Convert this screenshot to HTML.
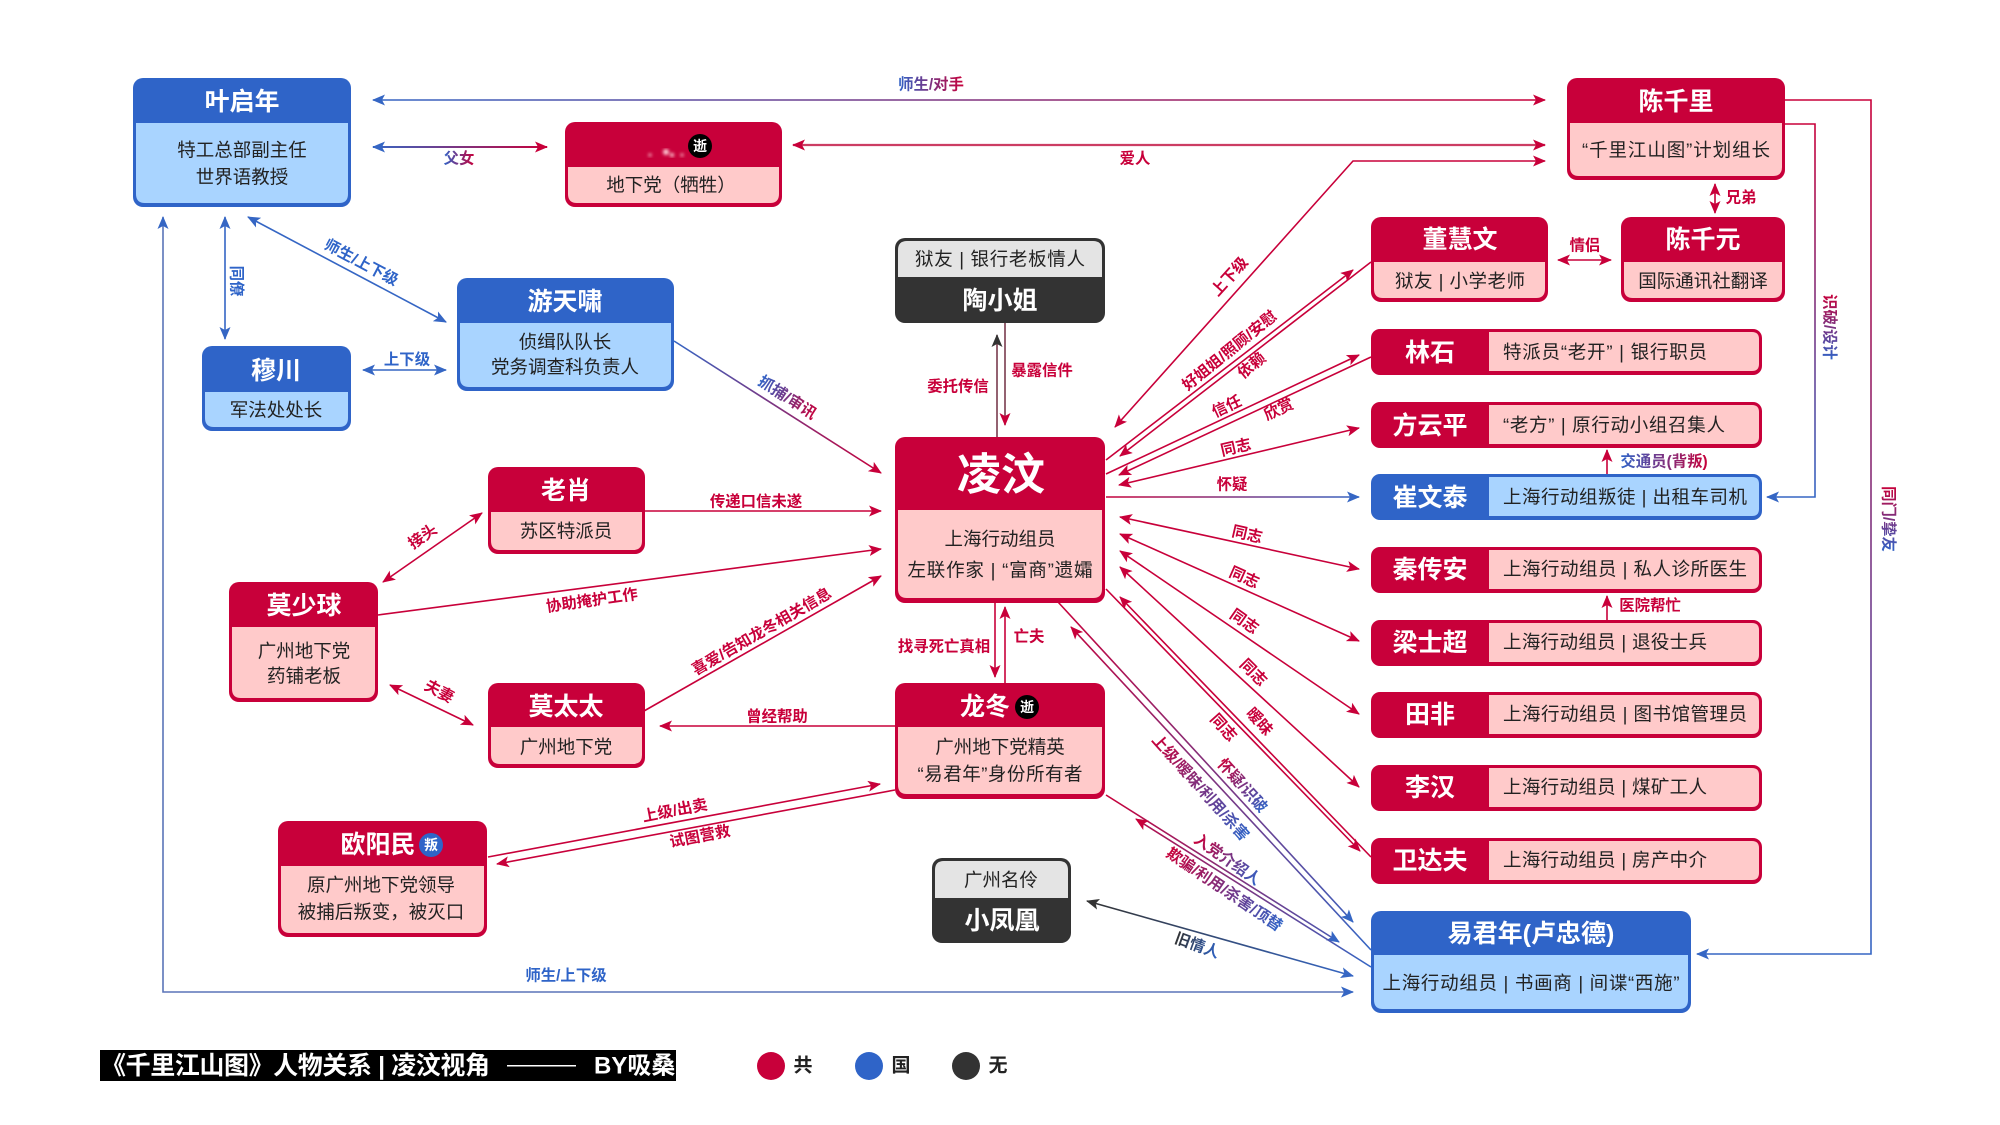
<!DOCTYPE html>
<html lang="zh"><head><meta charset="utf-8"><title>千里江山图 人物关系</title>
<style>
html,body{margin:0;padding:0;background:#fff;width:2000px;height:1125px;overflow:hidden}
svg{display:block}
text{font-family:"Liberation Sans","Noto Sans CJK SC",sans-serif;dominant-baseline:central}
.h{fill:#fff;font-weight:700;font-size:25px;text-anchor:middle}
.b{fill:#222;font-size:18.5px;text-anchor:middle}
.s{fill:#222;font-size:18.5px}
.l{font-weight:700;font-size:15.4px;text-anchor:middle;fill:#c8003a}
.lb{fill:#2f64c8}.lg{fill:url(#tg)}.lr{fill:url(#tr)}.lk{fill:url(#tk)}
line,polyline{fill:none;stroke-width:1.6}
.R{stroke:#c8003a}.B{stroke:#3566c4}
</style></head><body>
<svg width="2000" height="1125" viewBox="0 0 2000 1125" xmlns="http://www.w3.org/2000/svg">
<defs>
<marker id="r" markerUnits="userSpaceOnUse" markerWidth="13" markerHeight="11" viewBox="0 0 13 11" refX="12" refY="5.5" orient="auto-start-reverse"><path d="M0 0L13 5.5L0 11L3 5.5Z" fill="#c8003a"/></marker>
<marker id="b" markerUnits="userSpaceOnUse" markerWidth="13" markerHeight="11" viewBox="0 0 13 11" refX="12" refY="5.5" orient="auto-start-reverse"><path d="M0 0L13 5.5L0 11L3 5.5Z" fill="#3566c4"/></marker>
<marker id="k" markerUnits="userSpaceOnUse" markerWidth="13" markerHeight="11" viewBox="0 0 13 11" refX="12" refY="5.5" orient="auto-start-reverse"><path d="M0 0L13 5.5L0 11L3 5.5Z" fill="#333"/></marker>
<filter id="bl"><feGaussianBlur stdDeviation="1.5"/></filter>
<linearGradient id="tg"><stop offset="0" stop-color="#2f64c8"/><stop offset="1" stop-color="#c8003a"/></linearGradient>
<linearGradient id="tr"><stop offset="0" stop-color="#c8003a"/><stop offset="1" stop-color="#2f64c8"/></linearGradient>
<linearGradient id="tk"><stop offset="0" stop-color="#333"/><stop offset="1" stop-color="#2f64c8"/></linearGradient>
<linearGradient id="g1" gradientUnits="userSpaceOnUse" x1="373" y1="0" x2="1545" y2="0"><stop offset="0" stop-color="#3566c4"/><stop offset="1" stop-color="#c8003a"/></linearGradient>
<linearGradient id="g2" gradientUnits="userSpaceOnUse" x1="373" y1="0" x2="547" y2="0"><stop offset="0" stop-color="#3566c4"/><stop offset="1" stop-color="#c8003a"/></linearGradient>
<linearGradient id="g3" gradientUnits="userSpaceOnUse" x1="674" y1="341" x2="881" y2="473"><stop offset="0" stop-color="#3566c4"/><stop offset="1" stop-color="#c8003a"/></linearGradient>
<linearGradient id="g4" gradientUnits="userSpaceOnUse" x1="0" y1="100" x2="0" y2="954"><stop offset="0" stop-color="#c8003a"/><stop offset="1" stop-color="#3566c4"/></linearGradient>
<linearGradient id="g5" gradientUnits="userSpaceOnUse" x1="0" y1="124" x2="0" y2="497"><stop offset="0" stop-color="#c8003a"/><stop offset="1" stop-color="#3566c4"/></linearGradient>
<linearGradient id="g6" gradientUnits="userSpaceOnUse" x1="1106" y1="0" x2="1359" y2="0"><stop offset="0" stop-color="#c8003a"/><stop offset="1" stop-color="#3566c4"/></linearGradient>
<linearGradient id="g7" gradientUnits="userSpaceOnUse" x1="1058" y1="602" x2="1371" y2="950"><stop offset="0" stop-color="#c8003a"/><stop offset="1" stop-color="#3566c4"/></linearGradient>
<linearGradient id="g8" gradientUnits="userSpaceOnUse" x1="1106" y1="795" x2="1371" y2="967"><stop offset="0" stop-color="#c8003a"/><stop offset="1" stop-color="#3566c4"/></linearGradient>
<linearGradient id="g9" gradientUnits="userSpaceOnUse" x1="1087" y1="901" x2="1353" y2="976"><stop offset="0" stop-color="#333"/><stop offset="1" stop-color="#3566c4"/></linearGradient>
</defs>

<!-- connectors -->
<line x1="373" y1="100" x2="1545" y2="100" stroke="url(#g1)" marker-start="url(#b)" marker-end="url(#r)"/>
<line x1="373" y1="147" x2="547" y2="147" stroke="url(#g2)" style="stroke-width:2" marker-start="url(#b)" marker-end="url(#r)"/>
<line x1="793" y1="145" x2="1545" y2="145" stroke="#cc3d63" style="stroke-width:2.2" marker-start="url(#r)" marker-end="url(#r)"/>
<polyline class="R" points="1115,427 1353,161 1545,161" marker-start="url(#r)" marker-end="url(#r)"/>
<polyline points="1785,100 1871,100 1871,954 1697,954" stroke="url(#g4)" marker-end="url(#b)"/>
<polyline points="1785,124 1815,124 1815,497 1767,497" stroke="url(#g5)" marker-end="url(#b)"/>
<line class="R" x1="1715" y1="184" x2="1715" y2="213" marker-start="url(#r)" marker-end="url(#r)"/>
<line class="R" x1="1558" y1="260" x2="1611" y2="260" marker-start="url(#r)" marker-end="url(#r)"/>
<line class="R" x1="1106" y1="460" x2="1353" y2="270" marker-end="url(#r)"/>
<line class="R" x1="1371" y1="262" x2="1120" y2="456" marker-end="url(#r)"/>
<line class="R" x1="1106" y1="474" x2="1359" y2="355" marker-end="url(#r)"/>
<line class="R" x1="1371" y1="357" x2="1119" y2="475" marker-end="url(#r)"/>
<line class="R" x1="1119" y1="485" x2="1359" y2="428" marker-start="url(#r)" marker-end="url(#r)"/>
<line x1="1106" y1="497" x2="1359" y2="497" stroke="url(#g6)" marker-end="url(#b)"/>
<line class="R" x1="1120" y1="517" x2="1359" y2="569" marker-start="url(#r)" marker-end="url(#r)"/>
<line class="R" x1="1120" y1="534" x2="1359" y2="641" marker-start="url(#r)" marker-end="url(#r)"/>
<line class="R" x1="1120" y1="551" x2="1359" y2="714" marker-start="url(#r)" marker-end="url(#r)"/>
<line class="R" x1="1120" y1="567" x2="1359" y2="787" marker-start="url(#r)" marker-end="url(#r)"/>
<line class="R" x1="1106" y1="589" x2="1360" y2="851" marker-end="url(#r)"/>
<line class="R" x1="1371" y1="857" x2="1120" y2="597" marker-end="url(#r)"/>
<line x1="1058" y1="602" x2="1353" y2="922" stroke="url(#g7)" marker-end="url(#b)"/>
<line x1="1371" y1="950" x2="1071" y2="627" stroke="url(#g7)" marker-end="url(#r)"/>
<line x1="1106" y1="795" x2="1339" y2="942" stroke="url(#g8)" marker-end="url(#b)"/>
<line x1="1371" y1="967" x2="1136" y2="819" stroke="url(#g8)" marker-end="url(#r)"/>
<line x1="1087" y1="901" x2="1353" y2="976" stroke="url(#g9)" marker-start="url(#k)" marker-end="url(#b)"/>
<polyline points="163,217 163,992 1353,992" stroke="#5a74b8" marker-start="url(#b)" marker-end="url(#b)"/>
<line class="B" x1="225" y1="217" x2="225" y2="339" marker-start="url(#b)" marker-end="url(#b)"/>
<line class="B" x1="248" y1="217" x2="446" y2="322" marker-start="url(#b)" marker-end="url(#b)"/>
<line class="B" x1="363" y1="370" x2="446" y2="370" marker-start="url(#b)" marker-end="url(#b)"/>
<line x1="674" y1="341" x2="881" y2="473" stroke="url(#g3)" marker-end="url(#r)"/>
<line class="R" x1="644" y1="511" x2="881" y2="511" marker-end="url(#r)"/>
<line class="R" x1="482" y1="513" x2="383" y2="582" marker-start="url(#r)" marker-end="url(#r)"/>
<line class="R" x1="378" y1="615" x2="881" y2="549" marker-end="url(#r)"/>
<line class="R" x1="390" y1="685" x2="473" y2="725" marker-start="url(#r)" marker-end="url(#r)"/>
<line class="R" x1="644" y1="711" x2="881" y2="576" marker-end="url(#r)"/>
<line class="R" x1="895" y1="726" x2="660" y2="726" marker-end="url(#r)"/>
<line class="R" x1="488" y1="857" x2="880" y2="784" marker-end="url(#r)"/>
<line class="R" x1="895" y1="790" x2="497" y2="864" marker-end="url(#r)"/>
<line x1="1005" y1="323" x2="1005" y2="425" stroke="#7a3a4d" marker-end="url(#r)"/>
<line x1="997" y1="437" x2="997" y2="335" stroke="#7a3a4d" marker-end="url(#k)"/>
<line class="R" x1="995" y1="602" x2="995" y2="677" marker-end="url(#r)"/>
<line class="R" x1="1005" y1="683" x2="1005" y2="607" marker-end="url(#r)"/>
<line class="R" x1="1607" y1="474" x2="1607" y2="450" marker-end="url(#r)"/>
<line class="R" x1="1607" y1="620" x2="1607" y2="596" marker-end="url(#r)"/>

<!-- labels -->
<text class="l lg" x="931" y="85">师生/对手</text>
<text class="l lg" x="459" y="159">父女</text>
<text class="l" x="1135" y="159">爱人</text>
<text class="l" x="1230" y="277" transform="rotate(-48 1230 277)">上下级</text>
<text class="l lr" x="1888" y="519" transform="rotate(90 1888 519)">同门/挚友</text>
<text class="l lr" x="1829" y="327" transform="rotate(90 1829 327)">识破/设计</text>
<text class="l" x="1741" y="198">兄弟</text>
<text class="l" x="1585" y="246">情侣</text>
<text class="l" x="1230" y="351" transform="rotate(-39 1230 351)">好姐姐/照顾/安慰</text>
<text class="l" x="1252" y="366" transform="rotate(-39 1252 366)">依赖</text>
<text class="l" x="1227" y="407" transform="rotate(-25 1227 407)">信任</text>
<text class="l" x="1279" y="410" transform="rotate(-25 1279 410)">欣赏</text>
<text class="l" x="1236" y="448" transform="rotate(-13 1236 448)">同志</text>
<text class="l" x="1232" y="485">怀疑</text>
<text class="l" x="1247" y="535" transform="rotate(13 1247 535)">同志</text>
<text class="l" x="1244" y="578" transform="rotate(24 1244 578)">同志</text>
<text class="l" x="1244" y="622" transform="rotate(35 1244 622)">同志</text>
<text class="l" x="1253" y="673" transform="rotate(45 1253 673)">同志</text>
<text class="l" x="1259" y="722" transform="rotate(48 1259 722)">暧昧</text>
<text class="l" x="1223" y="728" transform="rotate(48 1223 728)">同志</text>
<text class="l lr" x="1200" y="788" transform="rotate(48 1200 788)">上级/暧昧/利用/杀害</text>
<text class="l lr" x="1242" y="786" transform="rotate(48 1242 786)">怀疑/识破</text>
<text class="l lr" x="1227" y="860" transform="rotate(35 1227 860)">入党介绍人</text>
<text class="l lr" x="1224" y="890" transform="rotate(34 1224 890)">欺骗/利用/杀害/顶替</text>
<text class="l lk" x="1197" y="946" transform="rotate(20 1197 946)">旧情人</text>
<text class="l lb" x="566" y="976">师生/上下级</text>
<text class="l lb" x="236" y="281" transform="rotate(90 236 281)">同僚</text>
<text class="l lb" x="361" y="263" transform="rotate(28 361 263)">师生/上下级</text>
<text class="l lb" x="407" y="360">上下级</text>
<text class="l lg" x="787" y="398" transform="rotate(33 787 398)">抓捕/审讯</text>
<text class="l" x="756" y="502">传递口信未遂</text>
<text class="l" x="423" y="537" transform="rotate(-35 423 537)">接头</text>
<text class="l" x="592" y="601" transform="rotate(-8 592 601)">协助掩护工作</text>
<text class="l" x="439" y="692" transform="rotate(28 439 692)">夫妻</text>
<text class="l" x="762" y="632" transform="rotate(-30 762 632)">喜爱/告知龙冬相关信息</text>
<text class="l" x="777" y="717">曾经帮助</text>
<text class="l" x="675" y="811" transform="rotate(-11 675 811)">上级/出卖</text>
<text class="l" x="700" y="837" transform="rotate(-11 700 837)">试图营救</text>
<text class="l" x="958" y="387">委托传信</text>
<text class="l" x="1042" y="371">暴露信件</text>
<text class="l" x="944" y="647">找寻死亡真相</text>
<text class="l" x="1029" y="637">亡夫</text>
<text class="l lg" x="1664" y="462">交通员(背叛)</text>
<text class="l" x="1650" y="606">医院帮忙</text>

<!-- 叶启年 -->
<rect x="133" y="78" width="218" height="129" rx="10" fill="#2f64c8"/>
<path d="M136 123H348V194q0 9-9 9H145q-9 0-9-9Z" fill="#a9d4ff"/>
<text class="h" x="242" y="102">叶启年</text>
<text class="b" x="242" y="150">特工总部副主任</text>
<text class="b" x="242" y="177">世界语教授</text>
<!-- redacted -->
<rect x="565" y="122" width="217" height="85" rx="10" fill="#c8003a"/>
<path d="M568 167H779V194q0 9-9 9H577q-9 0-9-9Z" fill="#ffcaca"/>
<g filter="url(#bl)" fill="#ffd0d8"><circle cx="666" cy="152" r="3"/><circle cx="672" cy="155" r="2"/><circle cx="650" cy="155" r="1.5"/><circle cx="682" cy="155" r="1.5"/></g>
<circle cx="700" cy="146" r="12" fill="#000"/>
<text x="700" y="146" text-anchor="middle" fill="#fff" font-size="14" font-weight="700">逝</text>
<text class="b" x="671" y="185">地下党（牺牲）</text>
<!-- 游天啸 -->
<rect x="457" y="278" width="217" height="113" rx="10" fill="#2f64c8"/>
<path d="M460 323H671V378q0 9-9 9H469q-9 0-9-9Z" fill="#a9d4ff"/>
<text class="h" x="565" y="302">游天啸</text>
<text class="b" x="565" y="342">侦缉队队长</text>
<text class="b" x="565" y="367">党务调查科负责人</text>
<!-- 穆川 -->
<rect x="202" y="346" width="149" height="85" rx="10" fill="#2f64c8"/>
<path d="M205 392H348V418q0 9-9 9H214q-9 0-9-9Z" fill="#a9d4ff"/>
<text class="h" x="276" y="371">穆川</text>
<text class="b" x="276" y="410">军法处处长</text>
<!-- 老肖 -->
<rect x="488" y="467" width="157" height="87" rx="10" fill="#c8003a"/>
<path d="M491 512H642V541q0 9-9 9H500q-9 0-9-9Z" fill="#ffcaca"/>
<text class="h" x="566" y="491">老肖</text>
<text class="b" x="566" y="531">苏区特派员</text>
<!-- 莫少球 -->
<rect x="229" y="582" width="149" height="120" rx="10" fill="#c8003a"/>
<path d="M232 627H375V689q0 9-9 9H241q-9 0-9-9Z" fill="#ffcaca"/>
<text class="h" x="304" y="606">莫少球</text>
<text class="b" x="304" y="651">广州地下党</text>
<text class="b" x="304" y="676">药铺老板</text>
<!-- 莫太太 -->
<rect x="488" y="683" width="157" height="85" rx="10" fill="#c8003a"/>
<path d="M491 727H642V755q0 9-9 9H500q-9 0-9-9Z" fill="#ffcaca"/>
<text class="h" x="566" y="707">莫太太</text>
<text class="b" x="566" y="747">广州地下党</text>
<!-- 欧阳民 -->
<rect x="278" y="821" width="209" height="116" rx="10" fill="#c8003a"/>
<path d="M281 866H484V924q0 9-9 9H290q-9 0-9-9Z" fill="#ffcaca"/>
<text class="h" x="378" y="845">欧阳民</text>
<circle cx="431" cy="845" r="12" fill="#2f64c8"/>
<text x="431" y="845" text-anchor="middle" fill="#fff" font-size="14" font-weight="700">叛</text>
<text class="b" x="381" y="885">原广州地下党领导</text>
<text class="b" x="381" y="912">被捕后叛变，被灭口</text>
<!-- 陶小姐 -->
<rect x="895" y="238" width="210" height="85" rx="10" fill="#333"/>
<path d="M898 277V250q0-9 9-9H1093q9 0 9 9V277Z" fill="#e4e4e4"/>
<text class="b" x="1000" y="259" textLength="170">狱友 | 银行老板情人</text>
<text class="h" x="1000" y="301">陶小姐</text>
<!-- 凌汶 -->
<rect x="895" y="437" width="210" height="166" rx="10" fill="#c8003a"/>
<path d="M898 510H1102V589q0 9-9 9H907q-9 0-9-9Z" fill="#ffcaca"/>
<text class="h" x="1001" y="475" style="font-size:44px">凌汶</text>
<text class="b" x="1000" y="539">上海行动组员</text>
<text class="b" x="1000" y="570" textLength="185">左联作家 | “富商”遗孀</text>
<!-- 龙冬 -->
<rect x="895" y="683" width="210" height="116" rx="10" fill="#c8003a"/>
<path d="M898 727H1102V785q0 9-9 9H907q-9 0-9-9Z" fill="#ffcaca"/>
<text class="h" x="985" y="707">龙冬</text>
<circle cx="1027" cy="707" r="12" fill="#000"/>
<text x="1027" y="707" text-anchor="middle" fill="#fff" font-size="14" font-weight="700">逝</text>
<text class="b" x="1000" y="747">广州地下党精英</text>
<text class="b" x="1000" y="774" textLength="165">“易君年”身份所有者</text>
<!-- 小凤凰 -->
<rect x="932" y="858" width="139" height="85" rx="10" fill="#333"/>
<path d="M935 898V870q0-9 9-9H1059q9 0 9 9V898Z" fill="#e4e4e4"/>
<text class="b" x="1001" y="880">广州名伶</text>
<text class="h" x="1002" y="921">小凤凰</text>
<!-- 陈千里 -->
<rect x="1567" y="78" width="218" height="102" rx="10" fill="#c8003a"/>
<path d="M1570 123H1782V167q0 9-9 9H1579q-9 0-9-9Z" fill="#ffcaca"/>
<text class="h" x="1676" y="102">陈千里</text>
<text class="b" x="1676" y="150" textLength="188">“千里江山图”计划组长</text>
<!-- 董慧文 -->
<rect x="1371" y="217" width="177" height="85" rx="10" fill="#c8003a"/>
<path d="M1374 262H1545V289q0 9-9 9H1383q-9 0-9-9Z" fill="#ffcaca"/>
<text class="h" x="1460" y="240">董慧文</text>
<text class="b" x="1460" y="281" textLength="130">狱友 | 小学老师</text>
<!-- 陈千元 -->
<rect x="1621" y="217" width="164" height="85" rx="10" fill="#c8003a"/>
<path d="M1624 262H1782V289q0 9-9 9H1633q-9 0-9-9Z" fill="#ffcaca"/>
<text class="h" x="1703" y="240">陈千元</text>
<text class="b" x="1703" y="281">国际通讯社翻译</text>
<!-- 横向节点 -->
<rect x="1371" y="329" width="391" height="46" rx="9" fill="#c8003a"/>
<path d="M1489 332H1752q7 0 7 7V364q0 7-7 7H1489Z" fill="#ffcaca"/>
<text class="h" x="1430" y="353">林石</text><text class="s" x="1503" y="352" textLength="204">特派员“老开” | 银行职员</text>
<rect x="1371" y="402" width="391" height="46" rx="9" fill="#c8003a"/>
<path d="M1489 405H1752q7 0 7 7V437q0 7-7 7H1489Z" fill="#ffcaca"/>
<text class="h" x="1430" y="426">方云平</text><text class="s" x="1503" y="425" textLength="222">“老方” | 原行动小组召集人</text>
<rect x="1371" y="474" width="391" height="46" rx="9" fill="#2f64c8"/>
<path d="M1489 477H1752q7 0 7 7V509q0 7-7 7H1489Z" fill="#a9d4ff"/>
<text class="h" x="1430" y="498">崔文泰</text><text class="s" x="1503" y="497" textLength="244">上海行动组叛徒 | 出租车司机</text>
<rect x="1371" y="547" width="391" height="46" rx="9" fill="#c8003a"/>
<path d="M1489 550H1752q7 0 7 7V582q0 7-7 7H1489Z" fill="#ffcaca"/>
<text class="h" x="1430" y="570">秦传安</text><text class="s" x="1503" y="569" textLength="244">上海行动组员 | 私人诊所医生</text>
<rect x="1371" y="620" width="391" height="46" rx="9" fill="#c8003a"/>
<path d="M1489 623H1752q7 0 7 7V655q0 7-7 7H1489Z" fill="#ffcaca"/>
<text class="h" x="1430" y="643">梁士超</text><text class="s" x="1503" y="642" textLength="204">上海行动组员 | 退役士兵</text>
<rect x="1371" y="692" width="391" height="46" rx="9" fill="#c8003a"/>
<path d="M1489 695H1752q7 0 7 7V727q0 7-7 7H1489Z" fill="#ffcaca"/>
<text class="h" x="1430" y="715">田非</text><text class="s" x="1503" y="714" textLength="244">上海行动组员 | 图书馆管理员</text>
<rect x="1371" y="765" width="391" height="46" rx="9" fill="#c8003a"/>
<path d="M1489 768H1752q7 0 7 7V800q0 7-7 7H1489Z" fill="#ffcaca"/>
<text class="h" x="1430" y="788">李汉</text><text class="s" x="1503" y="787" textLength="204">上海行动组员 | 煤矿工人</text>
<rect x="1371" y="838" width="391" height="46" rx="9" fill="#c8003a"/>
<path d="M1489 841H1752q7 0 7 7V873q0 7-7 7H1489Z" fill="#ffcaca"/>
<text class="h" x="1430" y="861">卫达夫</text><text class="s" x="1503" y="860" textLength="204">上海行动组员 | 房产中介</text>
<!-- 易君年 -->
<rect x="1371" y="911" width="320" height="102" rx="10" fill="#2f64c8"/>
<path d="M1374 955H1688V1000q0 9-9 9H1383q-9 0-9-9Z" fill="#a9d4ff"/>
<text class="h" x="1531" y="934">易君年(卢忠德)</text>
<text class="b" x="1531" y="983" textLength="297">上海行动组员 | 书画商 | 间谍“西施”</text>

<!-- legend -->
<rect x="100" y="1050" width="576" height="31" fill="#000"/>
<text x="101" y="1066" fill="#fff" font-size="25" font-weight="700" textLength="389">《千里江山图》人物关系 | 凌汶视角</text>
<rect x="507" y="1065" width="69" height="1.5" fill="#fff"/>
<text x="594" y="1066" fill="#fff" font-size="24" font-weight="700">BY吸桑</text>
<circle cx="771" cy="1066" r="14" fill="#c8003a"/>
<text x="803" y="1066" text-anchor="middle" fill="#222" font-size="19" font-weight="700">共</text>
<circle cx="869" cy="1066" r="14" fill="#2f64c8"/>
<text x="901" y="1066" text-anchor="middle" fill="#222" font-size="19" font-weight="700">国</text>
<circle cx="966" cy="1066" r="14" fill="#333"/>
<text x="998" y="1066" text-anchor="middle" fill="#222" font-size="19" font-weight="700">无</text>
</svg>
</body></html>
